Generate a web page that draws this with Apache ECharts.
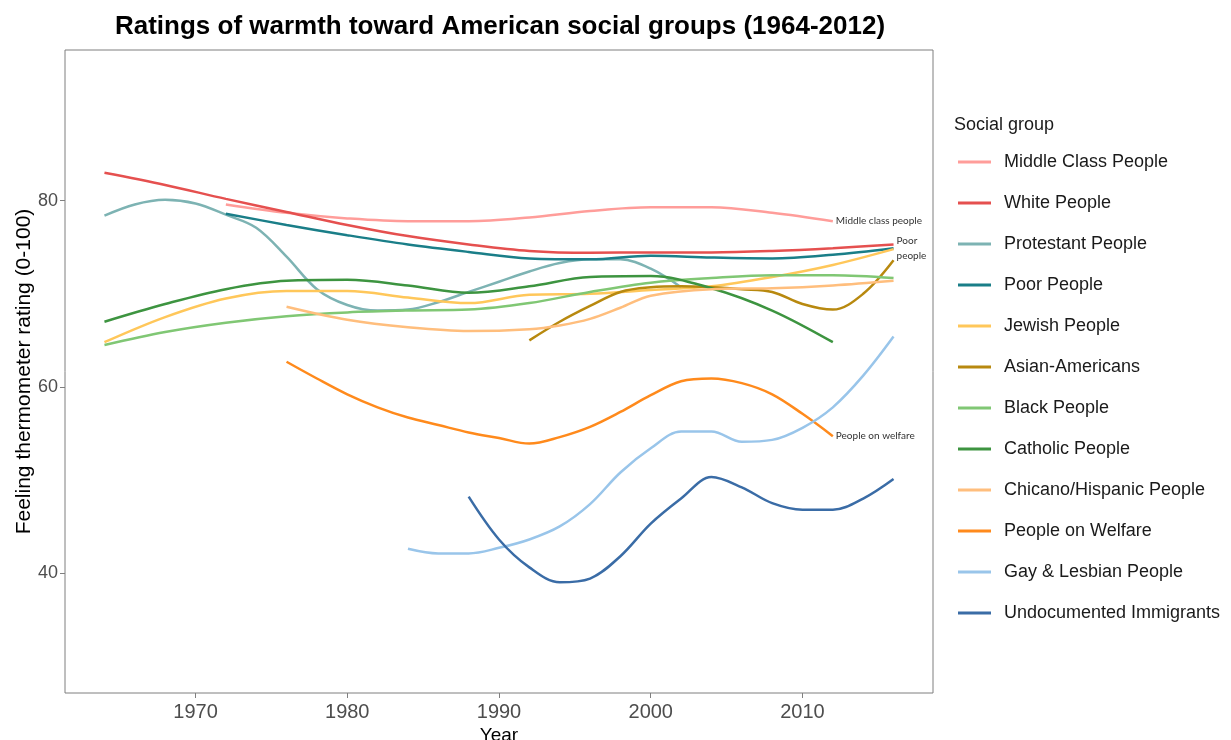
<!DOCTYPE html>
<html>
<head>
<meta charset="utf-8">
<script src="https://cdn.jsdelivr.net/npm/echarts@6/dist/echarts.min.js"></script>
<style>
  html, body { margin: 0; padding: 0; background: #fff; }
  #main { width: 1231px; height: 740px; }
</style>
</head>
<body>
<div id="main"></div>
<script>
// values
const middleYears = [1972, 1976, 1980, 1984, 1988, 1992, 1996, 2000, 2004, 2008, 2012]
const middleVals = [79.6, 78.7, 78.1, 77.8, 77.8, 78.2, 78.9, 79.3, 79.3, 78.7, 77.8]

const whiteYears = [1964, 1968, 1972, 1976, 1980, 1984, 1988, 1992, 1996, 2000, 2004, 2008, 2012, 2016]
const whiteVals = [83.0, 81.7, 80.2, 78.8, 77.4, 76.2, 75.3, 74.6, 74.4, 74.45, 74.45, 74.6, 74.9, 75.3]

const protYears = [1964, 1966, 1968, 1970, 1972, 1974, 1976, 1978, 1980, 1982, 1984, 1986, 1988, 1990, 1992, 1994, 1996, 1998, 2000, 2002]
const protVals = [78.4, 79.6, 80.1, 79.7, 78.5, 77.1, 74.0, 70.5, 68.8, 68.2, 68.3, 69.1, 70.2, 71.3, 72.4, 73.3, 73.7, 73.7, 72.7, 70.7]

const poorYears = [1972, 1976, 1980, 1984, 1988, 1992, 1996, 2000, 2004, 2008, 2012, 2016]
const poorVals = [78.6, 77.4, 76.3, 75.3, 74.5, 73.8, 73.7, 74.1, 73.9, 73.8, 74.2, 74.9]

const jewishYears = [1964, 1968, 1972, 1976, 1980, 1984, 1988, 1992, 1996, 2000, 2004, 2008, 2012, 2016]
const jewishVals = [64.8, 67.5, 69.5, 70.3, 70.3, 69.6, 69.0, 69.9, 70.0, 70.4, 70.8, 71.8, 73.1, 74.8]

const asianYears = [1992, 1994, 1996, 1998, 2000, 2002, 2004, 2006, 2008, 2010, 2012, 2014, 2016]
const asianVals = [65.0, 67.0, 68.7, 70.2, 70.7, 70.8, 70.7, 70.5, 70.2, 68.9, 68.3, 70.0, 73.6]

const blackYears = [1964, 1968, 1972, 1976, 1980, 1984, 1988, 1992, 1996, 2000, 2004, 2008, 2012, 2016]
const blackVals = [64.5, 65.9, 66.9, 67.6, 68.0, 68.2, 68.3, 69.0, 70.2, 71.2, 71.7, 72.0, 72.0, 71.7]

const catholicYears = [1964, 1968, 1972, 1976, 1980, 1984, 1988, 1992, 1996, 2000, 2004, 2008, 2012]
const catholicVals = [67.0, 68.9, 70.5, 71.4, 71.5, 70.9, 70.1, 70.8, 71.8, 71.9, 70.6, 68.2, 64.8]

const chicanoYears = [1976, 1980, 1984, 1988, 1992, 1994, 1996, 1998, 2000, 2004, 2008, 2012, 2016]
const chicanoVals = [68.6, 67.2, 66.4, 66.0, 66.2, 66.6, 67.3, 68.5, 69.8, 70.5, 70.6, 70.9, 71.4]

const welfareYears = [1976, 1978, 1980, 1982, 1984, 1986, 1988, 1990, 1992, 1994, 1996, 1998, 2000, 2002, 2004, 2006, 2008, 2010, 2012]
const welfareVals = [62.7, 60.9, 59.2, 57.8, 56.7, 55.9, 55.1, 54.5, 53.9, 54.6, 55.7, 57.3, 59.1, 60.6, 60.9, 60.4, 59.2, 57.1, 54.7]

const gayYears = [1984, 1986, 1988, 1990, 1992, 1994, 1996, 1998, 2000, 2002, 2004, 2006, 2008, 2010, 2012, 2014, 2016]
const gayVals = [42.6, 42.1, 42.1, 42.7, 43.6, 45.0, 47.4, 50.8, 53.4, 55.2, 55.2, 54.1, 54.3, 55.6, 57.8, 61.2, 65.4]

const undocYears = [1988, 1990, 1992, 1994, 1996, 1998, 2000, 2002, 2004, 2006, 2008, 2010, 2012, 2014, 2016]
const undocVals = [48.2, 43.6, 40.6, 39.0, 39.4, 41.8, 45.3, 48.0, 50.3, 49.2, 47.5, 46.8, 46.8, 48.0, 50.1]

const xTicks = [1970, 1980, 1990, 2000, 2010]
const yTicks = [40, 60, 80]

function pairs(xs, ys) {
  return xs.map((x, i) => [x, ys[i]])
}

function line(name, color, xs, ys, label) {
  const s = {
    name: name,
    type: 'line',
    smooth: 0.35,
    showSymbol: false,
    symbol: 'none',
    color: color,
    lineStyle: { width: 2.5, color: color },
    data: pairs(xs, ys)
  }
  if (label) {
    s.endLabel = {
      show: true,
      formatter: label,
      color: '#333',
      fontSize: 10,
      fontFamily: 'Lato',
      distance: 3,
      lineHeight: 15
    }
  }
  return s
}

const option = {
  animation: false,
  title: [
    {
      text: 'Ratings of warmth toward American social groups (1964-2012)',
      left: 495,
      top: 9,
      textAlign: 'center',
      textStyle: { fontFamily: 'Liberation Sans', fontWeight: 'bold', fontSize: 26, color: '#000' }
    },
    {
      text: 'Social group',
      left: 949,
      top: 111,
      textStyle: { fontFamily: 'Liberation Sans', fontWeight: 'normal', fontSize: 18, color: '#1a1a1a' }
    }
  ],
  legend: {
    orient: 'vertical',
    left: 953,
    top: 147,
    icon: 'rect',
    itemWidth: 33,
    itemHeight: 3,
    itemGap: 21,
    textStyle: { fontFamily: 'Liberation Sans', fontSize: 18, color: '#1a1a1a', padding: [0, 0, 0, 8], lineHeight: 20 }
  },
  grid: {
    left: 65,
    right: 298,
    top: 50,
    bottom: 47,
    outerBoundsMode: 'none',
    show: true,
    borderColor: '#7f7f7f',
    borderWidth: 1
  },
  xAxis: {
    type: 'value',
    min: 1961.4,
    max: 2018.6,
    name: 'Year',
    nameLocation: 'middle',
    nameGap: 33,
    nameMoveOverlap: false,
    nameTextStyle: { fontFamily: 'Liberation Sans', fontSize: 19, color: '#000' },
    axisLine: { show: false },
    splitLine: { show: false },
    axisTick: { show: true, length: 5, lineStyle: { color: '#7f7f7f' }, customValues: xTicks },
    axisLabel: {
      fontFamily: 'Liberation Sans', fontSize: 20, color: '#4d4d4d', margin: 9,
      customValues: xTicks,
      formatter: (v) => String(v)
    }
  },
  yAxis: {
    type: 'value',
    min: 27.1,
    max: 96.2,
    name: 'Feeling thermometer rating (0-100)',
    nameLocation: 'middle',
    nameGap: 30,
    nameMoveOverlap: false,
    nameTextStyle: { fontFamily: 'Liberation Sans', fontSize: 21, color: '#000' },
    axisLine: { show: false },
    splitLine: { show: false },
    axisTick: { show: true, length: 5, lineStyle: { color: '#7f7f7f' }, customValues: yTicks },
    axisLabel: {
      fontFamily: 'Liberation Sans', fontSize: 18, color: '#4d4d4d', margin: 7,
      customValues: yTicks,
      formatter: (v) => String(v)
    }
  },
  series: [
    line('Middle Class People', '#FF9D9A', middleYears, middleVals, 'Middle class people'),
    line('White People', '#E5504F', whiteYears, whiteVals),
    line('Protestant People', '#7DB3B3', protYears, protVals),
    line('Poor People', '#1A7E88', poorYears, poorVals, 'Poor\npeople'),
    line('Jewish People', '#FFC75A', jewishYears, jewishVals),
    line('Asian-Americans', '#B8890F', asianYears, asianVals),
    line('Black People', '#80C774', blackYears, blackVals),
    line('Catholic People', '#3D9440', catholicYears, catholicVals),
    line('Chicano/Hispanic People', '#FFBE7D', chicanoYears, chicanoVals),
    line('People on Welfare', '#FF8A1C', welfareYears, welfareVals, 'People on welfare'),
    line('Gay & Lesbian People', '#99C5EA', gayYears, gayVals),
    line('Undocumented Immigrants', '#3A6CA6', undocYears, undocVals)
  ]
}

const chart = echarts.init(document.getElementById('main'))
chart.setOption(option)
</script>
</body>
</html>
